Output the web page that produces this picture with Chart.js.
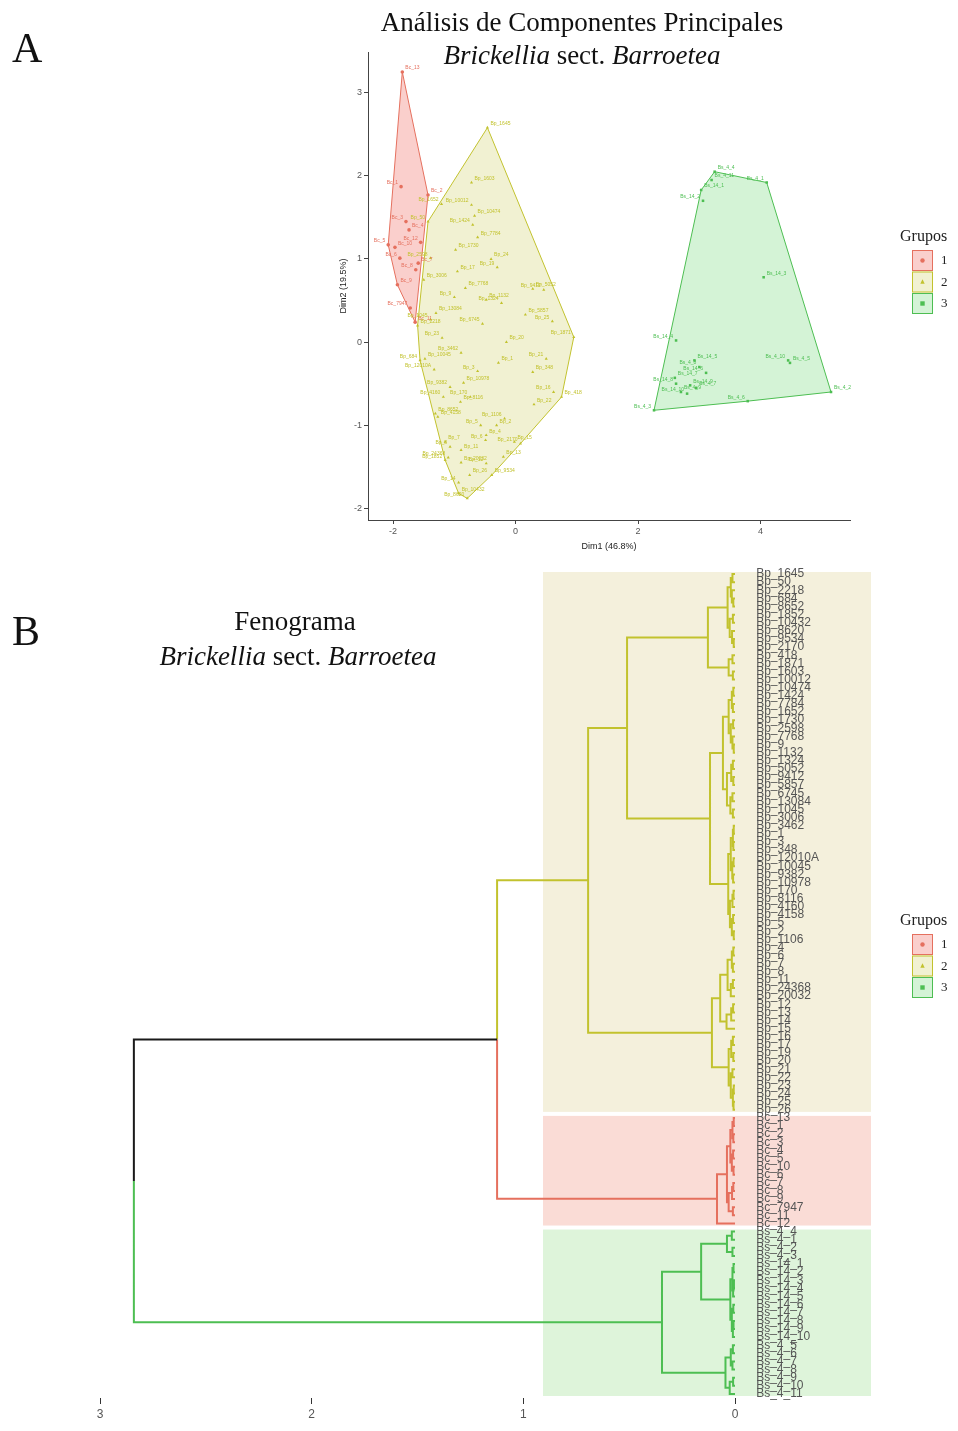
<!DOCTYPE html>
<html>
<head>
<meta charset="utf-8">
<script src="https://cdn.jsdelivr.net/npm/chart.js@4.4.0/dist/chart.umd.min.js"></script>
<style>
  body { margin: 0; background: #fff; width: 958px; height: 1431px; overflow: hidden; position: relative; }
  #pca { position: absolute; left: 0; top: 0; }
  #dend { position: absolute; left: 0; top: 560px; }
</style>
</head>
<body>
<canvas id="pca" width="958" height="560"></canvas>
<canvas id="dend" width="958" height="871"></canvas>
<script>
// groups: index 0 = "1" (red), 1 = "2" (yellow), 2 = "3" (green)
const groupNames = ["1", "2", "3"];

// PCA scores (Dim1, Dim2)
const pcaGroup1 = [
  [-1.85, 3.25], [-1.87, 1.87], [-1.43, 1.77], [-1.79, 1.45], [-1.74, 1.35], [-2.08, 1.17], [-1.97, 1.14],
  [-1.89, 1.01], [-1.59, 0.95], [-1.63, 0.87], [-1.93, 0.69], [-1.72, 0.41], [-1.64, 0.24], [-1.55, 1.2]
];
const pcaGroup2 = [
  [-0.46, 2.58], [-1.43, 1.45], [-1.6, 0.2], [-1.56, -0.22], [-1.31, -0.86], [-1.15, -1.42], [-0.93, -1.82],
  [-0.79, -1.88], [-0.39, -1.6], [0.08, -1.22], [0.75, -0.66], [0.95, 0.06],
  [-0.72, 1.92], [-0.72, 1.65], [-0.67, 1.52], [-0.7, 1.41], [-0.62, 1.26], [-1.21, 1.66], [-0.98, 1.11],
  [-1.39, 1.01], [-0.82, 0.65], [-1.0, 0.54], [-0.48, 0.51], [-0.23, 0.47], [0.28, 0.64], [0.46, 0.63],
  [0.16, 0.33], [-0.54, 0.22], [-1.3, 0.35], [-1.39, 0.27], [-1.5, 0.75], [-0.89, -0.13], [-0.28, -0.25],
  [-0.62, -0.35], [0.28, -0.36], [-1.33, -0.33], [-1.48, -0.2], [-1.07, -0.54], [-0.85, -0.49], [-0.74, -0.66],
  [-0.9, -0.72], [-1.18, -0.66], [-1.27, -0.9], [-0.57, -1.0], [-0.31, -1.0], [-0.18, -0.92], [-0.48, -1.12],
  [-0.49, -1.18], [-1.15, -1.2], [-1.07, -1.26], [-0.89, -1.3], [-1.1, -1.39], [-0.89, -1.45], [-0.48, -1.46],
  [-0.2, -1.38], [-0.93, -1.69], [-0.02, -1.2], [0.62, -0.6], [-0.95, 0.85], [-0.3, 0.9], [-0.15, 0.0],
  [0.5, -0.2], [0.3, -0.75], [-1.2, 0.05], [-0.4, 1.0], [0.6, 0.25], [-0.75, -1.6]
];
const pcaGroup3 = [
  [3.25, 2.05], [4.1, 1.92], [5.15, -0.6], [2.26, -0.82], [3.03, 1.83], [3.06, 1.7], [4.05, 0.78],
  [2.62, 0.02], [2.92, -0.22], [3.11, -0.37], [2.6, -0.43], [2.62, -0.5], [2.85, -0.52], [2.8, -0.62],
  [4.48, -0.25], [3.79, -0.71], [2.95, -0.55], [3.0, -0.3], [2.7, -0.6], [4.45, -0.22], [3.2, 1.95]
];

// specimen labels, in dendrogram order
const leaves2 = [
  "Bp_1645", "Bp_50", "Bp_2218", "Bp_684", "Bp_8652", "Bp_1852", "Bp_10432", "Bp_8620", "Bp_9534", "Bp_2170",
  "Bp_418", "Bp_1871", "Bp_1603", "Bp_10012", "Bp_10474", "Bp_1424", "Bp_7784", "Bp_1652", "Bp_1730", "Bp_2598",
  "Bp_7768", "Bp_9", "Bp_1132", "Bp_1324", "Bp_5052", "Bp_9412", "Bp_5857", "Bp_6745", "Bp_13084", "Bp_1045",
  "Bp_3006", "Bp_3462", "Bp_1", "Bp_3", "Bp_348", "Bp_12010A", "Bp_10045", "Bp_9382", "Bp_10978", "Bp_170",
  "Bp_8116", "Bp_4160", "Bp_4158", "Bp_5", "Bp_2", "Bp_1106", "Bp_4", "Bp_6", "Bp_7", "Bp_8",
  "Bp_11", "Bp_24368", "Bp_20032", "Bp_12", "Bp_13", "Bp_14", "Bp_15", "Bp_16", "Bp_17", "Bp_19",
  "Bp_20", "Bp_21", "Bp_22", "Bp_23", "Bp_24", "Bp_25", "Bp_26"
];
const leaves1 = [
  "Bc_13", "Bc_1", "Bc_2", "Bc_3", "Bc_4", "Bc_5", "Bc_10", "Bc_6", "Bc_7", "Bc_8", "Bc_9", "Bc_7947", "Bc_11", "Bc_12"
];
const leaves3 = [
  "Bs_4_4", "Bs_4_1", "Bs_4_2", "Bs_4_3", "Bs_14_1", "Bs_14_2", "Bs_14_3", "Bs_14_4", "Bs_14_5", "Bs_14_6",
  "Bs_14_7", "Bs_14_8", "Bs_14_9", "Bs_14_10", "Bs_4_5", "Bs_4_6", "Bs_4_7", "Bs_4_8", "Bs_4_9", "Bs_4_10", "Bs_4_11"
];

// dendrogram: [height, upper, lower], leaves are positions in the leaf order
const yA1 = [0.128,
  [0.035, [0.02, [0.012, 0, 1], [0.015, 2, [0.008, 3, 4]]], [0.025, [0.01, 5, 6], [0.014, 7, [0.006, 8, 9]]]],
  [0.03, [0.012, 10, 11], [0.01, 12, 13]]];
const yA2 = [0.118,
  [0.057, [0.03, [0.015, [0.008, 14, 15], [0.01, 16, 17]], [0.02, [0.009, 18, 19], [0.012, 20, [0.006, 21, 22]]]],
          [0.038, [0.018, [0.01, 23, 24], [0.008, 25, 26]], [0.022, [0.012, 27, 28], [0.01, 29, 30]]]],
  [0.032, [0.02, [0.01, [0.006, 31, 32], [0.008, 33, 34]], [0.013, [0.007, 35, 36], [0.009, 37, 38]]],
          [0.024, [0.012, [0.007, 39, 40], 41], [0.015, [0.009, 42, 43], [0.006, 44, 45]]]]];
const yB = [0.109,
  [0.07, [0.035, [0.015, [0.008, 46, 47], [0.01, 48, 49]], [0.02, [0.01, 50, 51], 52]],
         [0.04, [0.018, [0.009, 53, 54], 55], 56]],
  [0.03, [0.018, [0.01, 57, 58], [0.008, 59, 60]], [0.02, [0.012, 61, 62], [0.01, [0.006, 63, 64], [0.007, 65, 66]]]]];
const clusterYellow = [0.694, [0.51, yA1, yA2], yB];
const clusterRed = [0.085,
  [0.038, [0.022, [0.012, [0.006, 67, 68], [0.008, 69, 70]], [0.015, [0.009, 71, 72], [0.007, 73, 74]]],
          [0.03, [0.014, [0.008, 75, 76], 77], [0.01, 78, 79]]],
  80];
const clusterGreen = [0.345,
  [0.16, [0.038, [0.015, 81, 82], [0.012, 83, 84]],
         [0.022, [0.012, [0.007, 85, 86], [0.009, [0.005, 87, 88], 89]], [0.015, [0.008, 90, 91], [0.01, [0.007, 92, 93], 94]]]],
  [0.045, [0.02, [0.01, 95, 96], [0.012, 97, 98]], [0.025, [0.009, 99, 100], 101]]];
const dendRoot = [2.84, [1.124, clusterYellow, clusterRed], clusterGreen];

const xTicksA = [-2, 0, 2, 4];
const yTicksA = [-2, -1, 0, 1, 2, 3];
const xTicksB = [0, 1, 2, 3];

// styles
const lineColors = ["#E5705E", "#C2C22E", "#4DBE52"];
const hullFills = ["rgba(240,110,100,0.33)", "rgba(185,185,30,0.2)", "rgba(60,200,70,0.22)"];
const rectFills = ["#FADCD6", "#F4F0DC", "#DEF4DA"];
const shapes = ["circle", "triangle", "rect"];
const serif = "'Liberation Serif', 'DejaVu Serif', serif";
const sans = "'Liberation Sans', Arial, sans-serif";

function convexHull(pts) {
  const p = pts.slice().sort((a, b) => a[0] - b[0] || a[1] - b[1]);
  const cross = (o, a, b) => (a[0] - o[0]) * (b[1] - o[1]) - (a[1] - o[1]) * (b[0] - o[0]);
  const lower = [], upper = [];
  for (const q of p) {
    while (lower.length >= 2 && cross(lower[lower.length - 2], lower[lower.length - 1], q) <= 0) lower.pop();
    lower.push(q);
  }
  for (let i = p.length - 1; i >= 0; i--) {
    const q = p[i];
    while (upper.length >= 2 && cross(upper[upper.length - 2], upper[upper.length - 1], q) <= 0) upper.pop();
    upper.push(q);
  }
  const h = lower.slice(0, -1).concat(upper.slice(0, -1));
  h.push(h[0]);
  return h.map(q => ({ x: q[0], y: q[1] }));
}

function drawMixed(ctx, parts, cx, y, size) {
  const fonts = parts.map(p => (p[1] ? "italic " : "") + size + "px " + serif);
  let total = 0;
  const widths = parts.map((p, i) => { ctx.font = fonts[i]; const w = ctx.measureText(p[0]).width; total += w; return w; });
  let x = cx - total / 2;
  ctx.textAlign = "left";
  parts.forEach((p, i) => { ctx.font = fonts[i]; ctx.fillText(p[0], x, y); x += widths[i]; });
}

function drawSymbol(ctx, g, cx, cy, r) {
  ctx.fillStyle = lineColors[g];
  ctx.beginPath();
  if (g === 0) ctx.arc(cx, cy, r, 0, Math.PI * 2);
  else if (g === 1) { ctx.moveTo(cx, cy - r * 1.2); ctx.lineTo(cx + r, cy + r * 0.8); ctx.lineTo(cx - r, cy + r * 0.8); ctx.closePath(); }
  else ctx.rect(cx - r, cy - r, r * 2, r * 2);
  ctx.fill();
}

function drawLegend(ctx, left, top) {
  ctx.save();
  ctx.fillStyle = "#222";
  ctx.font = "16px " + serif;
  ctx.textAlign = "left";
  ctx.textBaseline = "alphabetic";
  ctx.fillText("Grupos", left - 12, top);
  groupNames.forEach((name, g) => {
    const y0 = top + 9 + g * 21.5;
    ctx.fillStyle = "#fff";
    ctx.fillRect(left, y0, 21, 21);
    ctx.fillStyle = hullFills[g];
    ctx.fillRect(left, y0, 21, 21);
    ctx.strokeStyle = lineColors[g];
    ctx.lineWidth = 1;
    ctx.strokeRect(left + 0.5, y0 + 0.5, 20, 20);
    drawSymbol(ctx, g, left + 10.5, y0 + 10.5, 2.2);
    ctx.fillStyle = "#222";
    ctx.font = "13px " + serif;
    ctx.textBaseline = "middle";
    ctx.fillText(name, left + 29, y0 + 11);
    ctx.textBaseline = "alphabetic";
  });
  ctx.restore();
}

// ---------- panel A: PCA ----------
const pcaGroups = [pcaGroup1, pcaGroup2, pcaGroup3];
const pcaLabels = [leaves1, leaves2, leaves3];

const pcaDatasets = [];
pcaGroups.forEach((pts, g) => {
  pcaDatasets.push({
    type: "line",
    data: convexHull(pts),
    borderColor: lineColors[g],
    borderWidth: 1,
    backgroundColor: hullFills[g],
    fill: "shape",
    pointRadius: 0,
    tension: 0,
    order: 2
  });
});
pcaGroups.forEach((pts, g) => {
  pcaDatasets.push({
    type: "scatter",
    data: pts.map(p => ({ x: p[0], y: p[1] })),
    pointStyle: shapes[g],
    pointRadius: 1.8,
    backgroundColor: lineColors[g],
    borderColor: lineColors[g],
    borderWidth: 0,
    order: 1
  });
});

const pcaDecor = {
  id: "pcaDecor",
  afterDatasetsDraw(chart) {
    const { ctx, scales: { x, y } } = chart;
    ctx.save();
    ctx.font = "5px " + sans;
    ctx.textBaseline = "middle";
    pcaGroups.forEach((pts, g) => {
      ctx.fillStyle = lineColors[g];
      pts.forEach((p, i) => {
        const px = x.getPixelForValue(p[0]);
        const py = y.getPixelForValue(p[1]);
        ctx.textAlign = i % 2 ? "right" : "left";
        ctx.fillText(pcaLabels[g][i], px + (i % 2 ? -3 : 3), py - 4);
      });
    });
    ctx.restore();
  },
  afterDraw(chart) {
    const ctx = chart.ctx;
    ctx.save();
    ctx.fillStyle = "#111";
    ctx.textAlign = "left";
    ctx.font = "42px " + serif;
    ctx.fillText("A", 12, 62);
    ctx.font = "27px " + serif;
    ctx.textAlign = "center";
    ctx.fillText("Análisis de Componentes Principales", 582, 31);
    drawMixed(ctx, [["Brickellia", true], [" sect. ", false], ["Barroetea", true]], 582, 64, 27);
    drawLegend(ctx, 912, 241);
    ctx.restore();
  }
};

new Chart(document.getElementById("pca"), {
  type: "scatter",
  data: { datasets: pcaDatasets },
  options: {
    responsive: false,
    animation: false,
    layout: { padding: { left: 334, right: 108, top: 52, bottom: 4 } },
    plugins: { legend: { display: false }, tooltip: { enabled: false } },
    scales: {
      x: {
        type: "linear",
        min: -2.41,
        max: 5.46,
        afterBuildTicks: s => { s.ticks = xTicksA.map(v => ({ value: v })); },
        afterFit: s => { s.height = 36; },
        grid: { display: true, drawOnChartArea: false, drawTicks: true, tickLength: 4, color: "#444" },
        border: { color: "#444", width: 1 },
        ticks: { font: { size: 9, family: sans }, color: "#555", padding: 2 },
        title: { display: true, text: "Dim1 (46.8%)", font: { size: 9, family: sans }, color: "#222" }
      },
      y: {
        type: "linear",
        min: -2.14,
        max: 3.49,
        afterBuildTicks: s => { s.ticks = yTicksA.map(v => ({ value: v })); },
        afterFit: s => { s.width = 34; },
        grid: { display: true, drawOnChartArea: false, drawTicks: true, tickLength: 4, color: "#444" },
        border: { color: "#444", width: 1 },
        ticks: { font: { size: 9, family: sans }, color: "#555", padding: 2 },
        title: { display: true, text: "Dim2 (19.5%)", font: { size: 9, family: sans }, color: "#222" }
      }
    }
  },
  plugins: [pcaDecor]
});

// ---------- panel B: dendrogram ----------
const leafBlocks = [[1, leaves2], [0, leaves1], [2, leaves3]];
const leafLabels = [];
const leafGroup = [];
leafBlocks.forEach(([g, labels]) => labels.forEach(l => { leafLabels.push(l); leafGroup.push(g); }));

const segments = { black: [], 0: [], 1: [], 2: [] };
function walk(node) {
  if (typeof node === "number") return { pos: node, h: 0, groups: new Set([leafGroup[node]]) };
  const kids = [walk(node[1]), walk(node[2])];
  const pos = (kids[0].pos + kids[1].pos) / 2;
  kids.forEach(k => {
    const key = k.groups.size === 1 ? [...k.groups][0] : "black";
    segments[key].push({ x: node[0], y: pos }, { x: node[0], y: k.pos }, { x: k.h, y: k.pos }, { x: null, y: null });
  });
  return { pos, h: node[0], groups: new Set([...kids[0].groups, ...kids[1].groups]) };
}
walk(dendRoot);

const dendDatasets = ["black", 0, 1, 2].map(key => ({
  type: "line",
  data: segments[key],
  borderColor: key === "black" ? "#1a1a1a" : lineColors[key],
  borderWidth: 2,
  pointRadius: 0,
  fill: false,
  spanGaps: false,
  tension: 0
}));

const rectHeight = 0.907;
const labelOffset = -0.1;

const dendDecor = {
  id: "dendDecor",
  beforeDatasetsDraw(chart) {
    const { ctx, chartArea, scales: { x, y } } = chart;
    ctx.save();
    let start = 0;
    leafBlocks.forEach(([g, labels]) => {
      const end = start + labels.length - 1;
      const y0 = y.getPixelForValue(start - 0.5) + 2;
      const y1 = y.getPixelForValue(end + 0.5) - 2;
      const x0 = x.getPixelForValue(rectHeight);
      ctx.fillStyle = rectFills[g];
      ctx.fillRect(x0, y0, chartArea.right - x0, y1 - y0);
      start = end + 1;
    });
    ctx.restore();
  },
  afterDatasetsDraw(chart) {
    const { ctx, scales: { x, y } } = chart;
    ctx.save();
    ctx.font = "12px " + sans;
    ctx.fillStyle = "#555";
    ctx.textAlign = "left";
    ctx.textBaseline = "middle";
    const lx = x.getPixelForValue(labelOffset);
    leafLabels.forEach((l, i) => ctx.fillText(l, lx, y.getPixelForValue(i)));
    ctx.restore();
  },
  afterDraw(chart) {
    const ctx = chart.ctx;
    ctx.save();
    ctx.fillStyle = "#111";
    ctx.textAlign = "left";
    ctx.font = "42px " + serif;
    ctx.fillText("B", 12, 85);
    ctx.font = "27px " + serif;
    ctx.textAlign = "center";
    ctx.fillText("Fenograma", 295, 70);
    drawMixed(ctx, [["Brickellia", true], [" sect. ", false], ["Barroetea", true]], 298, 105, 27);
    drawLegend(ctx, 912, 365);
    ctx.restore();
  }
};

new Chart(document.getElementById("dend"), {
  type: "scatter",
  data: { datasets: dendDatasets },
  options: {
    responsive: false,
    animation: false,
    layout: { padding: { left: 100, right: 87, top: 10, bottom: 7 } },
    plugins: { legend: { display: false }, tooltip: { enabled: false } },
    scales: {
      x: {
        type: "linear",
        reverse: true,
        min: -0.6425,
        max: 3,
        afterBuildTicks: s => { s.ticks = xTicksB.map(v => ({ value: v })); },
        afterFit: s => { s.height = 26; },
        grid: { display: true, drawOnChartArea: false, drawTicks: true, tickLength: 6, color: "#333" },
        border: { display: false },
        ticks: { font: { size: 12, family: sans }, color: "#555", padding: 3 }
      },
      y: {
        type: "linear",
        display: false,
        reverse: true,
        min: -0.5,
        max: 101.5
      }
    }
  },
  plugins: [dendDecor]
});
</script>
</body>
</html>
